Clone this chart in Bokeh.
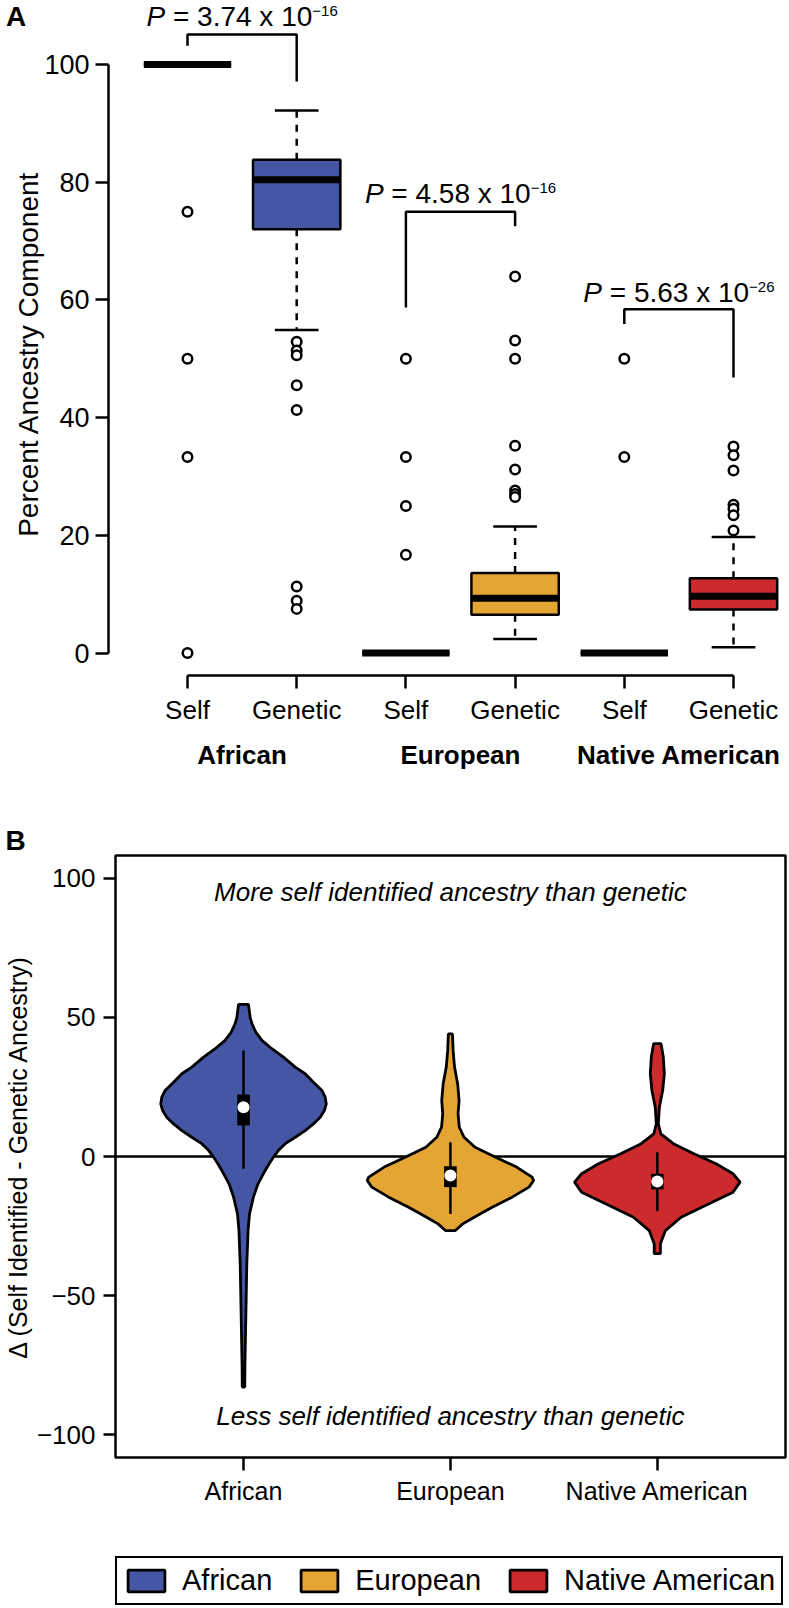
from bokeh.plotting import figure
from bokeh.models import (Range1d, LinearAxis, FixedTicker, Span, Legend, LegendItem)
from bokeh.embed import file_html
from bokeh.resources import INLINE
from bokeh.core.properties import value

FONT = "Liberation Sans"

# ---------------- Panel A data ----------------
a_pos = [1, 2, 3, 4, 5, 6]
a_tick_labels = ["Self", "Genetic", "Self", "Genetic", "Self", "Genetic"]
a_groups = ["African", "European", "Native American"]
a_group_pos = [1.5, 3.5, 5.5]
a_q1 = [100, 72.0, 0, 6.5, 0, 7.4]
a_med = [100, 80.4, 0, 9.3, 0, 9.65]
a_q3 = [100, 83.8, 0, 13.6, 0, 12.7]
a_lo = [100, 54.9, 0, 2.4, 0, 1.0]
a_hi = [100, 92.2, 0, 21.5, 0, 19.7]
a_outliers = [
    [75.0, 50.0, 33.3, 0.0],
    [52.9, 51.4, 50.6, 45.5, 41.3, 11.3, 8.9, 7.5],
    [50.0, 33.3, 25.0, 16.7],
    [64.0, 53.1, 50.0, 35.2, 31.2, 27.6, 27.0, 26.5],
    [50.0, 33.3],
    [35.1, 33.6, 31.0, 25.2, 24.5, 23.4, 20.8],
]
p_mantissa = ["3.74", "4.58", "5.63"]
p_exponent = ["\u221216", "\u221216", "\u221226"]
bracket_left = [1, 3, 5]
bracket_right = [2, 4, 6]
bracket_top = [105.1, 75.0, 58.4]
bracket_left_end = [103.2, 58.7, 55.9]
bracket_right_end = [97.1, 72.5, 46.8]
p_text_y = [106.5, 76.4, 59.6]

colors = ["#4557A4", "#E4A534", "#CC2A2D"]

# ---------------- Panel B data ----------------
b_groups = ["African", "European", "Native American"]
b_pos = [1, 2, 3]
# violin outlines: delta value and half-width (x-axis units)
afr_y = [54.6, 50.0, 47.6, 44.6, 41.7, 38.7, 35.7, 32.1, 29.7, 26.7, 23.7, 21.3, 18.9, 16.5,
         14.1, 11.7, 9.3, 6.9, 4.6, 2.2, -0.2, -2.6, -5.0, -9.8, -14.6, -20.6, -26.6, -38.5,
         -50.5, -62.5, -74.4, -82.8]
afr_w = [0.024, 0.032, 0.041, 0.060, 0.089, 0.137, 0.193, 0.250, 0.298, 0.338, 0.379, 0.395,
         0.400, 0.391, 0.371, 0.338, 0.298, 0.250, 0.202, 0.169, 0.145, 0.124, 0.105, 0.070,
         0.048, 0.029, 0.022, 0.016, 0.013, 0.010, 0.007, 0.006]
eur_y = [44.0, 38.1, 32.1, 26.1, 20.1, 15.3, 10.5, 6.9, 3.3, -0.2, -3.8, -7.4, -8.6, -11.0,
         -14.6, -18.2, -21.8, -24.2, -26.6]
eur_w = [0.010, 0.013, 0.020, 0.035, 0.042, 0.037, 0.043, 0.066, 0.119, 0.216, 0.320, 0.395,
         0.402, 0.380, 0.298, 0.202, 0.115, 0.060, 0.024]
nat_y = [40.5, 35.7, 29.7, 23.7, 17.7, 11.7, 8.1, 4.6, 1.0, -2.6, -6.2, -9.2, -12.8, -17.0,
         -21.8, -26.6, -31.3, -34.9]
nat_w = [0.018, 0.029, 0.034, 0.026, 0.010, 0.005, 0.017, 0.078, 0.177, 0.284, 0.366, 0.400,
         0.366, 0.250, 0.115, 0.039, 0.015, 0.015]
b_q1 = [11.1, -11.0, -11.8]
b_med = [17.7, -6.8, -9.0]
b_q3 = [22.3, -3.5, -6.2]
b_lo = [-4.4, -20.6, -19.6]
b_hi = [38.1, 5.1, 1.5]
b_notes = ["More self identified ancestry than genetic", "Less self identified ancestry than genetic"]
b_note_x = [2, 2]
b_note_y = [94.9, -93.0]

# Arial / Liberation Sans advance widths (per 1000 em), used for text offsets
_W = {"P": 667, " ": 278, "=": 584, ".": 278, "x": 500, "\u2212": 584}
for d in "0123456789":
    _W[d] = 556


def text_width(s, size):
    return sum(_W.get(ch, 556) for ch in s) * size / 1000.0


FS, SS = 28, 15


def draw_pvalue(fig, i):
    # p_text_y is the baseline of the main text; texts are placed by their middle
    cx = (bracket_left[i] + bracket_right[i]) / 2
    main = "= %s x 10" % p_mantissa[i]
    wp = text_width("P", FS)
    wsp = text_width(" ", FS)
    wm = text_width(main, FS)
    ws = text_width(p_exponent[i], SS)
    start = -(wp + wsp + wm + ws) / 2
    common = dict(text_font=value(FONT), text_align="left", text_baseline="middle", text_color="black")
    fig.text(x=[cx], y=[p_text_y[i]], text=["P"], x_offset=start, y_offset=-9.7,
             text_font_size="%dpx" % FS, text_font_style="italic", **common)
    fig.text(x=[cx], y=[p_text_y[i]], text=[main], x_offset=start + wp + wsp, y_offset=-9.7,
             text_font_size="%dpx" % FS, **common)
    fig.text(x=[cx], y=[p_text_y[i]], text=[p_exponent[i]], x_offset=start + wp + wsp + wm,
             y_offset=-15.2, text_font_size="%dpx" % SS, **common)


def violin_polygon(c, ys, ws):
    xs_poly = [c + w for w in ws] + [c - w for w in reversed(ws)]
    ys_poly = list(ys) + list(reversed(ys))
    return xs_poly, ys_poly


# ================= Top strip of panel A (panel letter + first P value) =================
ps = figure(width=787, height=32, x_range=Range1d(-0.7125, 6.4762), y_range=Range1d(105.44, 110.88),
            x_axis_type=None, y_axis_type=None, output_backend="svg", toolbar_location=None,
            min_border_left=0, min_border_right=2, min_border_top=0, min_border_bottom=0)
ps.outline_line_color = None
ps.text(x=[-0.5705], y=[108.16], text=["A"], text_font=value(FONT), text_font_size="28px",
        text_font_style="bold", text_align="center", text_baseline="middle", text_color="black")
draw_pvalue(ps, 0)

# ================= Figure A =================
pa = figure(width=787, height=768, x_range=Range1d(0.2766, 6.4762), y_range=Range1d(-3.82, 105.44),
            x_axis_type=None, y_axis_type=None, output_backend="svg", toolbar_location=None,
            min_border_left=108, min_border_right=2, min_border_top=0, min_border_bottom=125)
pa.outline_line_color = None

ya = LinearAxis(ticker=FixedTicker(ticks=[0, 20, 40, 60, 80, 100]), bounds=(0, 100),
                axis_label="Percent Ancestry Component")
ya.axis_line_width = 2.5
ya.major_tick_line_width = 2.5
ya.major_tick_out = 13
ya.major_tick_in = 0
ya.minor_tick_line_color = None
ya.major_label_text_font = FONT
ya.major_label_text_font_size = "27px"
ya.major_label_text_color = "black"
ya.major_label_standoff = 6
ya.axis_label_text_font = FONT
ya.axis_label_text_font_size = "28px"
ya.axis_label_text_font_style = "normal"
ya.axis_label_text_color = "black"
ya.axis_label_standoff = -3
pa.add_layout(ya, "left")

xa = LinearAxis(ticker=FixedTicker(ticks=a_pos), bounds=(1, 6),
                major_label_overrides={p: l for p, l in zip(a_pos, a_tick_labels)})
xa.axis_line_width = 2.5
xa.major_tick_line_width = 2.5
xa.major_tick_out = 13
xa.major_tick_in = 0
xa.minor_tick_line_color = None
xa.major_label_text_font = FONT
xa.major_label_text_font_size = "26px"
xa.major_label_text_color = "black"
xa.major_label_standoff = 6
pa.add_layout(xa, "below")

xg = LinearAxis(ticker=FixedTicker(ticks=a_group_pos),
                major_label_overrides={p: g for p, g in zip(a_group_pos, a_groups)})
xg.axis_line_color = None
xg.major_tick_line_color = None
xg.minor_tick_line_color = None
xg.major_tick_out = 0
xg.major_tick_in = 0
xg.major_label_text_font = FONT
xg.major_label_text_font_size = "26px"
xg.major_label_text_font_style = "bold"
xg.major_label_text_color = "black"
xg.major_label_standoff = 12
pa.add_layout(xg, "below")

a_colors = [c for c in colors for _ in range(2)]
pa.segment(x0=a_pos, y0=a_q3, x1=a_pos, y1=a_hi, line_color="black", line_width=2.5, line_dash="7 7")
pa.segment(x0=a_pos, y0=a_q1, x1=a_pos, y1=a_lo, line_color="black", line_width=2.5, line_dash="7 7")
cap_x0 = [x - 0.2 for x in a_pos]
cap_x1 = [x + 0.2 for x in a_pos]
pa.segment(x0=cap_x0, y0=a_hi, x1=cap_x1, y1=a_hi, line_color="black", line_width=2.5)
pa.segment(x0=cap_x0, y0=a_lo, x1=cap_x1, y1=a_lo, line_color="black", line_width=2.5)
pa.vbar(x=a_pos, bottom=a_q1, top=a_q3, width=0.8, fill_color=a_colors, line_color="black", line_width=2.5)
pa.rect(x=a_pos, y=a_med, width=0.8, height=7, height_units="screen", fill_color="black", line_color=None)
ox = [a_pos[i] for i, vals in enumerate(a_outliers) for _ in vals]
oy = [v for vals in a_outliers for v in vals]
pa.scatter(x=ox, y=oy, marker="circle", size=9.5, fill_color="white", line_color="black", line_width=2.5)

bx = [[l, l, r, r] for l, r in zip(bracket_left, bracket_right)]
by = [[le, t, t, re] for le, t, re in zip(bracket_left_end, bracket_top, bracket_right_end)]
pa.multi_line(xs=bx, ys=by, line_color="black", line_width=2.5)
draw_pvalue(pa, 1)
draw_pvalue(pa, 2)

# ================= Figure B =================
pb = figure(width=787, height=730, x_range=Range1d(0.3813, 3.6196), y_range=Range1d(-108.08, 108.08),
            x_axis_type=None, y_axis_type=None, output_backend="svg", toolbar_location=None,
            min_border_left=115, min_border_right=2, min_border_top=55, min_border_bottom=73)
pb.outline_line_color = "black"
pb.outline_line_width = 2.5
pb.outline_line_alpha = 1.0
pb.title.text = "B"
pb.title.align = "left"
pb.title.offset = -110
pb.title.standoff = 0
pb.title.text_font = FONT
pb.title.text_font_size = "28px"
pb.title.text_font_style = "bold"
pb.title.text_color = "black"

yb = LinearAxis(ticker=FixedTicker(ticks=[-100, -50, 0, 50, 100]),
                major_label_overrides={-100: "\u2212100", -50: "\u221250"},
                axis_label="\u0394 (Self Identified - Genetic Ancestry)")
yb.axis_line_color = None
yb.major_tick_line_width = 2.5
yb.major_tick_out = 12
yb.major_tick_in = 0
yb.minor_tick_line_color = None
yb.major_label_text_font = FONT
yb.major_label_text_font_size = "26px"
yb.major_label_text_color = "black"
yb.major_label_standoff = 8
yb.axis_label_text_font = FONT
yb.axis_label_text_font_size = "25px"
yb.axis_label_text_font_style = "normal"
yb.axis_label_text_color = "black"
yb.axis_label_standoff = 2
pb.add_layout(yb, "left")

xb = LinearAxis(ticker=FixedTicker(ticks=b_pos),
                major_label_overrides={p: g for p, g in zip(b_pos, b_groups)})
xb.axis_line_color = None
xb.major_tick_line_width = 2.5
xb.major_tick_out = 13
xb.major_tick_in = 0
xb.minor_tick_line_color = None
xb.major_label_text_font = FONT
xb.major_label_text_font_size = "25px"
xb.major_label_text_color = "black"
xb.major_label_standoff = 6
pb.add_layout(xb, "below")

pb.add_layout(Span(location=0, dimension="width", line_color="black", line_width=2.5, level="underlay"))

violins = [violin_polygon(c, ys, ws) for c, ys, ws in zip(b_pos, [afr_y, eur_y, nat_y], [afr_w, eur_w, nat_w])]
for (xs_poly, ys_poly), col in zip(violins, colors):
    pb.patch(x=xs_poly, y=ys_poly, fill_color=col, line_color="black", line_width=2.8)

pb.segment(x0=b_pos, y0=b_lo, x1=b_pos, y1=b_hi, line_color="black", line_width=2.5)
pb.vbar(x=b_pos, bottom=b_q1, top=b_q3, width=0.061, fill_color="black", line_color=None)
pb.scatter(x=b_pos, y=b_med, marker="circle", size=12, fill_color="white", line_color=None)

pb.text(x=b_note_x, y=b_note_y, text=b_notes, text_font=value(FONT), text_font_size="26px",
        text_font_style="italic", text_align="center", text_baseline="middle", text_color="black")

# ================= Legend strip (keys for the violin series of panel B) =================
pl = figure(width=787, height=76, x_range=Range1d(0, 1), y_range=Range1d(1000, 1001),
            x_axis_type=None, y_axis_type=None, output_backend="svg", toolbar_location=None,
            min_border_left=0, min_border_right=2, min_border_top=0, min_border_bottom=0)
pl.outline_line_color = None
key_renderers = [pl.patch(x=xs_poly, y=ys_poly, fill_color=col, line_color="black", line_width=2.8)
                 for (xs_poly, ys_poly), col in zip(violins, colors)]
legend = Legend(items=[LegendItem(label=g, renderers=[r]) for g, r in zip(b_groups, key_renderers)],
                orientation="horizontal", location=(115, 1), margin=0, padding=6, spacing=24,
                label_standoff=13, glyph_width=46, glyph_height=27,
                label_text_font=FONT, label_text_font_size="29px", label_text_color="black",
                border_line_color="black", border_line_width=2, border_line_alpha=1.0,
                background_fill_alpha=1.0)
pl.add_layout(legend)

open("out.html", "w").write(file_html([ps, pa, pb, pl], INLINE, title="Ancestry"))
